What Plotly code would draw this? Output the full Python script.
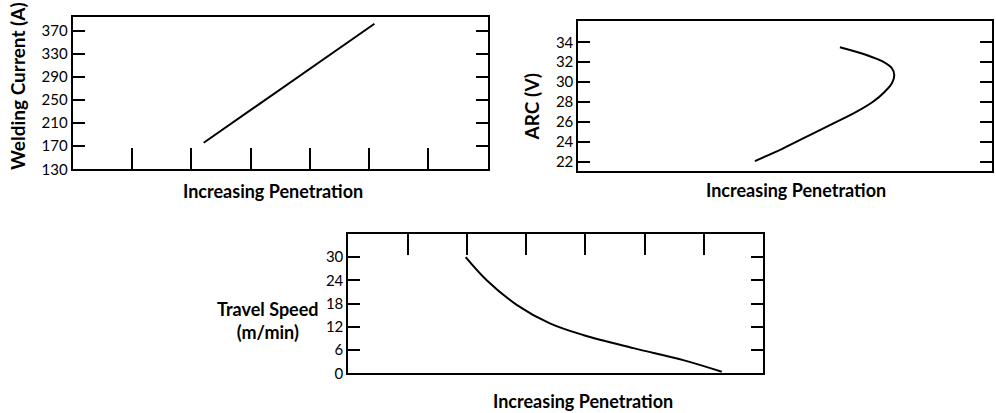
import plotly.graph_objects as go

# ---- data ----
current_x = [2.21, 5.09]
current_y = [176, 382]
current_ticks = [130, 170, 210, 250, 290, 330, 370]

arc_x = [2.99, 3.47, 3.92, 4.32, 4.66, 4.99, 5.19, 5.31, 5.35, 5.31, 5.16, 4.88, 4.43]
arc_y = [22.07, 23.35, 24.68, 25.86, 26.86, 28.03, 29.04, 29.88, 30.71, 31.39, 32.05, 32.72, 33.5]
arc_ticks = [22, 24, 26, 28, 30, 32, 34]

speed_x = [1.98, 2.33, 2.84, 3.40, 3.96, 4.81, 5.65, 6.30]
speed_y = [30.0, 24.1, 17.7, 12.9, 9.9, 6.5, 3.4, 0.4]
speed_ticks = [0, 6, 12, 18, 24, 30]

pen_ticks = [1, 2, 3, 4, 5, 6]

W, H = 996, 413      # target picture size (layout coordinates are in these pixels)
FIG_H = 421          # figure height actually rendered
FONT = "Lato"

def px_x(a, b):
    return [a / W, b / W]

def px_y(top, bottom):
    return [1 - bottom / H, 1 - top / H]

fig = go.Figure()
line = dict(color="black", width=2)
fig.add_trace(go.Scatter(x=current_x, y=current_y, mode="lines", line=line, xaxis="x", yaxis="y", showlegend=False))
fig.add_trace(go.Scatter(x=arc_x, y=arc_y, mode="lines", line=dict(color="black", width=2, shape="spline"),
                         xaxis="x2", yaxis="y2", showlegend=False))
fig.add_trace(go.Scatter(x=speed_x, y=speed_y, mode="lines", line=dict(color="black", width=2, shape="spline"),
                         xaxis="x3", yaxis="y3", showlegend=False))

common_y = dict(showline=True, linecolor="black", linewidth=2, mirror="ticks", ticks="inside",
                ticklen=12, tickwidth=2, tickcolor="black", showgrid=False, zeroline=False,
                tickfont=dict(family=FONT, size=15, color="black"))
common_x = dict(showline=True, linecolor="black", linewidth=2, mirror=True, showgrid=False,
                zeroline=False, showticklabels=False, range=[0, 7])

fig.update_layout(
    width=W, height=FIG_H, margin=dict(l=0, r=0, t=0, b=0),
    plot_bgcolor="white", paper_bgcolor="white",
    xaxis=dict(domain=px_x(72.7, 487.7), anchor="y", tickvals=pen_ticks, ticks="inside",
               ticklen=21, tickwidth=2, tickcolor="black", **common_x),
    yaxis=dict(domain=px_y(16.7, 169.3), anchor="x", range=[130, 394.2], tickvals=current_ticks, **common_y),
    xaxis2=dict(domain=px_x(578.3, 991.7), anchor="y2", ticks="", **common_x),
    yaxis2=dict(domain=px_y(20.7, 170.7), anchor="x2", range=[21.1, 36.17], tickvals=arc_ticks, **common_y),
    xaxis3=dict(domain=px_x(348.3, 763.3), anchor="y3", side="top", tickvals=pen_ticks, ticks="inside",
                ticklen=21, tickwidth=2, tickcolor="black", **common_x),
    yaxis3=dict(domain=px_y(234, 373.3), anchor="x3", range=[0, 36], tickvals=speed_ticks, **common_y),
)

title_font = dict(family=FONT, size=18, color="black", weight="bold")

def ann(text, x, y, angle=0, size=18):
    fig.add_annotation(text=text, x=x / W, y=1 - y / H, xref="paper", yref="paper",
                       showarrow=False, xanchor="center", yanchor="middle", textangle=angle,
                       font=dict(title_font, size=size))

ann("Increasing Penetration", 272.5, 191)
ann("Increasing Penetration", 795.8, 190)
ann("Increasing Penetration", 582.5, 400.7)
ann("Welding Current (A)", 18, 86, -90, 19)
ann("ARC (V)", 531.7, 106.7, -90, 19)
ann("Travel Speed<br>(m/min)", 268, 320)

fig.write_html("out.html", config={"displayModeBar": False},
               post_script="document.body.style.margin='0px';")
